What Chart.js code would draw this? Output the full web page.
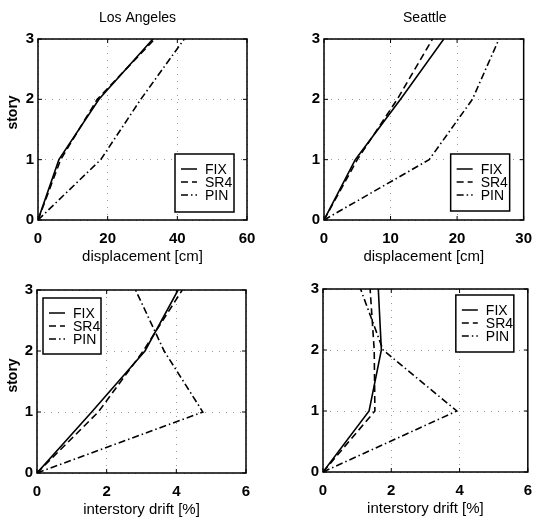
<!DOCTYPE html>
<html>
<head>
<meta charset="utf-8">
<script src="https://cdn.jsdelivr.net/npm/chart.js@4/dist/chart.umd.min.js"></script>
<style>
  html, body { margin: 0; padding: 0; background: #fff; }
  #wrap { position: relative; width: 542px; height: 522px; overflow: hidden; background: #fff; }
  .cell { position: absolute; }
</style>
</head>
<body>
<div id="wrap">
  <div class="cell" style="left:0px;top:0px;width:271px;height:266px"><canvas id="k1"></canvas></div>
  <div class="cell" style="left:286px;top:0px;width:256px;height:266px"><canvas id="k2"></canvas></div>
  <div class="cell" style="left:-1px;top:277px;width:272px;height:242px"><canvas id="k3"></canvas></div>
  <div class="cell" style="left:285px;top:276px;width:257px;height:242px"><canvas id="k4"></canvas></div>
</div>
<script>
// ---- data ----
const stories = [0, 1, 2, 3];
const seriesNames = ['FIX', 'SR4', 'PIN'];
const storyTicks = [0, 1, 2, 3];

const laDispFix = [0, 6, 17.5, 33];
const laDispSr4 = [0, 6.5, 17, 33.5];
const laDispPin = [0, 18, 29.5, 42];
const laDispTicks = [0, 20, 40, 60];

const seaDispFix = [0, 4.7, 11.5, 18];
const seaDispSr4 = [0, 5.0, 11, 16.3];
const seaDispPin = [0, 15.8, 22.3, 26.3];
const seaDispTicks = [0, 10, 20, 30];

const laDriftFix = [0, 1.57, 3.1, 4.05];
const laDriftSr4 = [0, 1.76, 3.05, 4.17];
const laDriftPin = [0, 4.76, 3.65, 2.83];
const driftTicks = [0, 2, 4, 6];

const seaDriftFix = [0, 1.35, 1.71, 1.62];
const seaDriftSr4 = [0, 1.52, 1.5, 1.38];
const seaDriftPin = [0, 3.92, 1.76, 1.1];

const titles = ['Los Angeles', 'Seattle'];
const xLabels = ['displacement [cm]', 'interstory drift [%]'];
const yLabel = 'story';

// ---- styles ----
const SANS = "'Liberation Sans', Arial, sans-serif";
const dashes = [[], [7, 4], [7, 3, 1.5, 3]];

function mkDatasets(vals) {
  return vals.map((v, i) => ({
    label: seriesNames[i],
    data: v.map((x, j) => ({ x: x, y: stories[j] })),
    borderColor: '#000',
    borderWidth: 1.6,
    borderDash: dashes[i],
    pointRadius: 0,
    fill: false,
    tension: 0
  }));
}

const framePlugin = {
  id: 'frame',
  afterDatasetsDraw(chart) {
    const { ctx, chartArea: a, scales } = chart;
    const o = chart.options.plugins.frame;
    ctx.save();
    ctx.strokeStyle = '#000';
    ctx.lineWidth = 1.5;
    ctx.setLineDash([]);
    ctx.strokeRect(a.left, a.top, a.right - a.left, a.bottom - a.top);
    // inward ticks
    ctx.lineWidth = 1;
    const xs = scales.x, ys = scales.y;
    xs.ticks.forEach(t => {
      const px = xs.getPixelForValue(t.value);
      ctx.beginPath();
      ctx.moveTo(px, a.bottom); ctx.lineTo(px, a.bottom - 4);
      ctx.moveTo(px, a.top); ctx.lineTo(px, a.top + 4);
      ctx.stroke();
    });
    ys.ticks.forEach(t => {
      const py = ys.getPixelForValue(t.value);
      ctx.beginPath();
      ctx.moveTo(a.left, py); ctx.lineTo(a.left + 4, py);
      ctx.moveTo(a.right, py); ctx.lineTo(a.right - 4, py);
      ctx.stroke();
    });
    ctx.fillStyle = '#000';
    // plot title
    if (o.title) {
      ctx.font = "14px " + SANS;
      ctx.textAlign = 'center';
      ctx.textBaseline = 'alphabetic';
      ctx.fillText(o.title, (a.left + a.right) / 2 + o.titleDx, o.titleY);
    }
    // y label
    if (o.yLabel) {
      ctx.save();
      ctx.font = "bold 14px " + SANS;
      ctx.textAlign = 'center';
      ctx.textBaseline = 'middle';
      ctx.translate(o.yLabelX, (a.top + a.bottom) / 2 + o.yLabelDy);
      ctx.rotate(-Math.PI / 2);
      ctx.fillText(o.yLabel, 0, 0);
      ctx.restore();
    }
    // legend box
    const lg = o.legend;
    const bx = lg.corner.includes('right') ? a.right - lg.offX - lg.w : a.left + lg.offX;
    const by = lg.corner.includes('bottom') ? a.bottom - lg.offY - lg.h : a.top + lg.offY;
    ctx.fillStyle = '#fff';
    ctx.fillRect(bx, by, lg.w, lg.h);
    ctx.lineWidth = 1.5;
    ctx.strokeRect(bx, by, lg.w, lg.h);
    ctx.font = "14px " + SANS;
    ctx.fillStyle = '#000';
    ctx.textBaseline = 'middle';
    ctx.textAlign = 'left';
    chart.data.datasets.forEach((ds, i) => {
      const yy = by + 15 + i * 13;
      ctx.lineWidth = 1.5;
      ctx.setLineDash(ds.borderDash);
      ctx.beginPath();
      ctx.moveTo(bx + 6, yy);
      ctx.lineTo(bx + 22, yy);
      ctx.stroke();
      ctx.setLineDash([]);
      ctx.fillText(ds.label, bx + 30, yy + 1);
    });
    ctx.restore();
  }
};

function makeChart(id, vals, xmax, opts) {
  const tickFont = { family: SANS, size: 15, weight: 'bold' };
  return new Chart(document.getElementById(id), {
    type: 'line',
    data: { datasets: mkDatasets(vals) },
    plugins: [framePlugin],
    options: {
      responsive: true,
      maintainAspectRatio: false,
      animation: false,
      layout: { padding: { top: opts.padTop, right: opts.padRight, left: 0, bottom: 0 } },
      plugins: {
        legend: { display: false },
        tooltip: { enabled: false },
        title: { display: false },
        frame: opts
      },
      scales: {
        x: {
          type: 'linear',
          min: 0, max: xmax,
          afterBuildTicks(s) { s.ticks = opts.xticks.map(v => ({ value: v })); },
          afterFit(s) { s.height = 46; },
          border: { display: false, dash: [1, 6] },
          grid: { color: '#9a9a9a', lineWidth: 1, drawTicks: false },
          ticks: { color: '#000', font: tickFont, padding: 10, maxRotation: 0, autoSkip: false },
          title: { display: true, text: opts.xLabel, color: '#000',
                   font: { family: SANS, size: 15, lineHeight: 1.2 }, padding: { top: 0, bottom: 0 } }
        },
        y: {
          type: 'linear',
          min: 0, max: 3,
          afterBuildTicks(s) { s.ticks = storyTicks.map(v => ({ value: v })); },
          afterFit(s) { s.width = 38; },
          border: { display: false, dash: [1, 6] },
          grid: { color: '#9a9a9a', lineWidth: 1, drawTicks: false },
          ticks: { color: '#000', font: tickFont, padding: 4, autoSkip: false },
          title: { display: false }
        }
      }
    }
  });
}

makeChart('k1', [laDispFix, laDispSr4, laDispPin], 60, {
  padTop: 39, padRight: 24, title: titles[0], titleDx: -5, titleY: 22,
  xLabel: xLabels[0], yLabel: yLabel, yLabelX: 13, yLabelDy: -17, xticks: laDispTicks,
  legend: { corner: 'bottom-right', offX: 13, offY: 8, w: 59, h: 58 }
});
makeChart('k2', [seaDispFix, seaDispSr4, seaDispPin], 30, {
  padTop: 39, padRight: 9, title: titles[1], titleDx: 1, titleY: 22,
  xLabel: xLabels[0], yLabel: null, xticks: seaDispTicks,
  legend: { corner: 'bottom-right', offX: 14, offY: 9, w: 59, h: 57 }
});
makeChart('k3', [laDriftFix, laDriftSr4, laDriftPin], 6, {
  padTop: 12, padRight: 25, title: null,
  xLabel: xLabels[1], yLabel: yLabel, yLabelX: 14, yLabelDy: -6, xticks: driftTicks,
  legend: { corner: 'top-left', offX: 6, offY: 8, w: 58, h: 56 }
});
makeChart('k4', [seaDriftFix, seaDriftSr4, seaDriftPin], 6, {
  padTop: 12, padRight: 10, title: null,
  xLabel: xLabels[1], yLabel: null, xticks: driftTicks,
  legend: { corner: 'top-right', offX: 14, offY: 6, w: 58, h: 57 }
});
</script>
</body>
</html>
